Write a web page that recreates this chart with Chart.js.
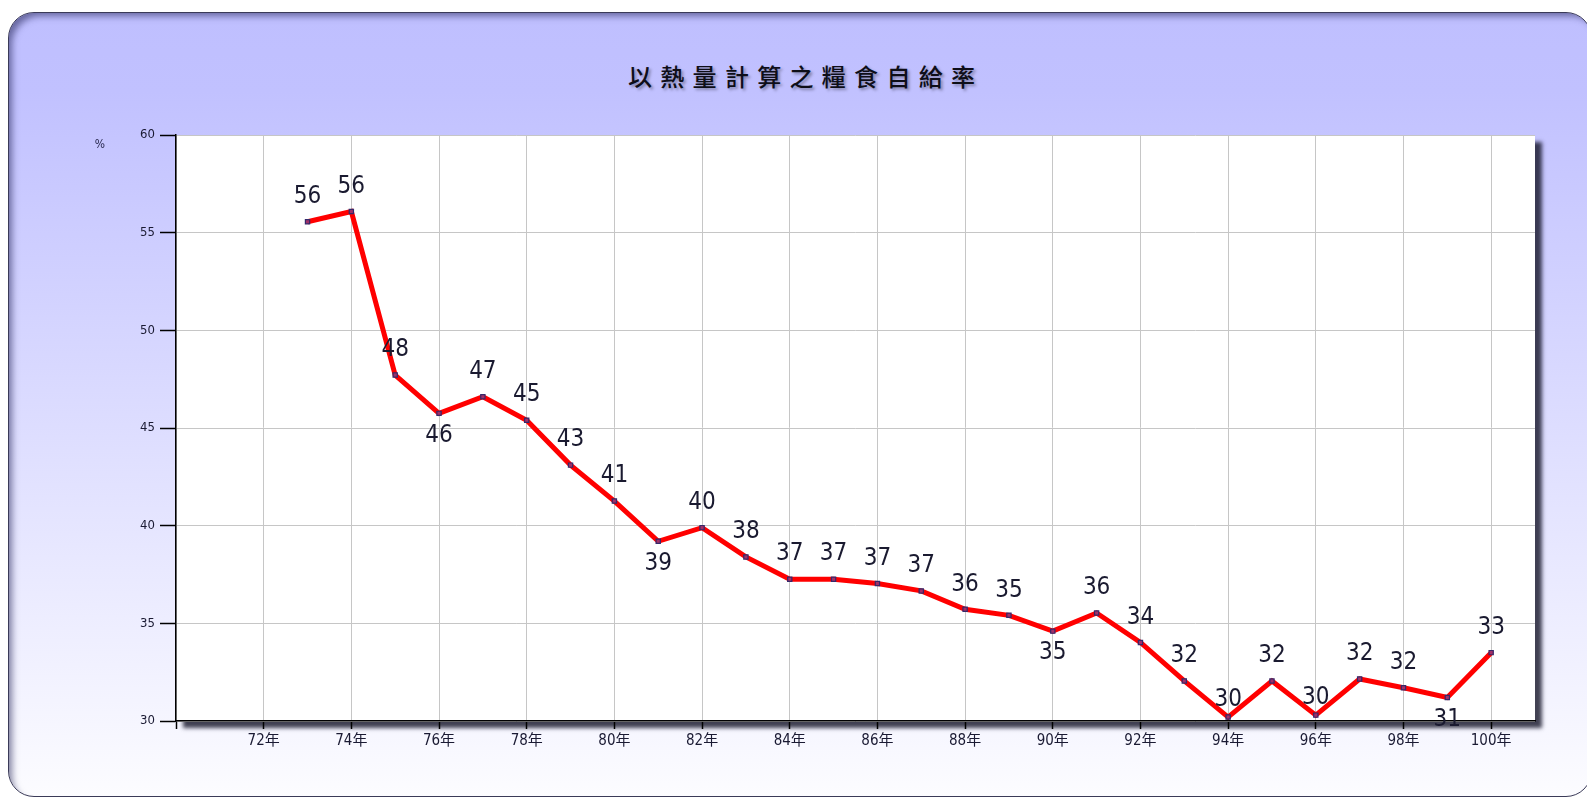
<!DOCTYPE html>
<html>
<head>
<meta charset="utf-8">
<script src="https://cdn.jsdelivr.net/npm/chart.js@4.4.1/dist/chart.umd.min.js"></script>
<style>
  html, body { margin: 0; padding: 0; background: #ffffff; width: 1587px; height: 798px; overflow: hidden; }
  #frame {
    position: absolute; left: 8px; top: 12px; width: 1582px; height: 783px;
    border: 1.5px solid #3a3a58; border-radius: 26px;
    background: linear-gradient(to bottom, #BFBFFF 0%, #C1C1FF 10%, #FCFCFF 100%);
    box-shadow: inset 6px 6px 7px -3px rgba(30,30,80,0.55);
  }
  #title {
    position: absolute; left: 628px; top: 63px;
    font-family: 'Noto Sans CJK TC', sans-serif; font-size: 24px; line-height: 26px;
    font-weight: 500; letter-spacing: 8.3px; color: #0e0e18; white-space: nowrap;
    text-shadow: 2px 2px 3px rgba(0,0,0,0.35);
  }
  #wrap { position: absolute; left: 0; top: 0; width: 1587px; height: 798px; }
</style>
</head>
<body>
<div id="frame"></div>
<div id="title">以熱量計算之糧食自給率</div>
<div id="wrap"><canvas id="c"></canvas></div>
<script>
// ---- data ----
const years = [73,74,75,76,77,78,79,80,81,82,83,84,85,86,87,88,89,90,91,92,93,94,95,96,97,98,99,100];
const values = [55.56,56.08,47.71,45.75,46.6,45.4,43.1,41.26,39.2,39.9,38.4,37.26,37.26,37.04,36.66,35.72,35.41,34.6,35.53,34.02,32.05,30.2,32.05,30.3,32.15,31.7,31.2,33.5];
const pointLabels = ['56','56','48','46','47','45','43','41','39','40','38','37','37','37','37','36','35','35','36','34','32','30','32','30','32','32','31','33'];
const xTickValues = [70,72,74,76,78,80,82,84,86,88,90,92,94,96,98,100];
const xTickLabels = ['','72年','74年','76年','78年','80年','82年','84年','86年','88年','90年','92年','94年','96年','98年','100年'];
const yTickValues = [30,35,40,45,50,55,60];
const unitLabel = '%';

// label placement (style only)
const labelBelowYears = [76,81,90,99];
const labelNearYears = [94,96];

const numFont = "'DejaVu Sans Condensed', 'Liberation Sans', 'Noto Sans CJK TC', sans-serif";

const plotBg = {
  id: 'plotBg',
  beforeDraw(chart) {
    const a = chart.chartArea, ctx = chart.ctx;
    ctx.save();
    ctx.shadowColor = 'rgba(20,20,40,0.8)';
    ctx.shadowOffsetX = 7; ctx.shadowOffsetY = 7; ctx.shadowBlur = 4;
    ctx.fillStyle = '#ffffff';
    ctx.fillRect(a.left, a.top, a.right - a.left, a.bottom - a.top);
    ctx.restore();
    ctx.save();
    ctx.font = "12px " + numFont;
    ctx.fillStyle = '#2a2a50';
    ctx.textAlign = 'center'; ctx.textBaseline = 'middle';
    ctx.fillText(unitLabel, a.left - 76, a.top + 10);
    ctx.restore();
  }
};

const valueLabels = {
  id: 'valueLabels',
  afterDatasetsDraw(chart) {
    const meta = chart.getDatasetMeta(0), ctx = chart.ctx;
    ctx.save();
    ctx.font = "24px " + numFont;
    ctx.fillStyle = '#1a1a30';
    ctx.textAlign = 'center'; ctx.textBaseline = 'middle';
    meta.data.forEach((el, i) => {
      const yr = years[i];
      let dy = -25;
      if (labelBelowYears.includes(yr)) dy = 22;
      else if (labelNearYears.includes(yr)) dy = -17;
      ctx.fillText(pointLabels[i], el.x, el.y + dy);
    });
    ctx.restore();
  }
};

new Chart(document.getElementById('c'), {
  type: 'line',
  data: {
    datasets: [{
      data: years.map((y, i) => ({ x: y, y: values[i] })),
      borderColor: '#ff0000',
      borderWidth: 5,
      pointStyle: 'rect',
      pointRadius: 3,
      pointBackgroundColor: '#a03068',
      pointBorderColor: '#36286a',
      pointBorderWidth: 1.2,
      tension: 0,
      clip: false
    }]
  },
  options: {
    responsive: true,
    maintainAspectRatio: false,
    animation: false,
    layout: { padding: { left: 0, top: 135, right: 52, bottom: 0 } },
    plugins: { legend: { display: false }, title: { display: false }, tooltip: { enabled: false } },
    scales: {
      x: {
        type: 'linear', min: 70, max: 101,
        afterBuildTicks(scale) { scale.ticks = xTickValues.map(v => ({ value: v })); },
        afterFit(scale) { scale.height = 77; },
        ticks: {
          autoSkip: false, maxRotation: 0, padding: 3,
          font: { size: 15, family: numFont },
          color: '#1a1a33',
          callback(v) { const k = xTickValues.indexOf(v); return k >= 0 ? xTickLabels[k] : ''; }
        },
        grid: { color: '#c6c6c6', lineWidth: 1, tickLength: 8, tickColor: '#000000', tickWidth: 1.5 },
        border: { color: '#000000', width: 1.5 }
      },
      y: {
        min: 30, max: 60,
        afterBuildTicks(scale) { scale.ticks = yTickValues.map(v => ({ value: v })); },
        afterFit(scale) { scale.width = 176; },
        ticks: { padding: 5, font: { size: 13, family: numFont }, color: '#1a1a33' },
        grid: { color: '#c6c6c6', lineWidth: 1, tickLength: 16, tickColor: '#000000', tickWidth: 1.5 },
        border: { color: '#000000', width: 1.5 }
      }
    }
  },
  plugins: [plotBg, valueLabels]
});
</script>
</body>
</html>
